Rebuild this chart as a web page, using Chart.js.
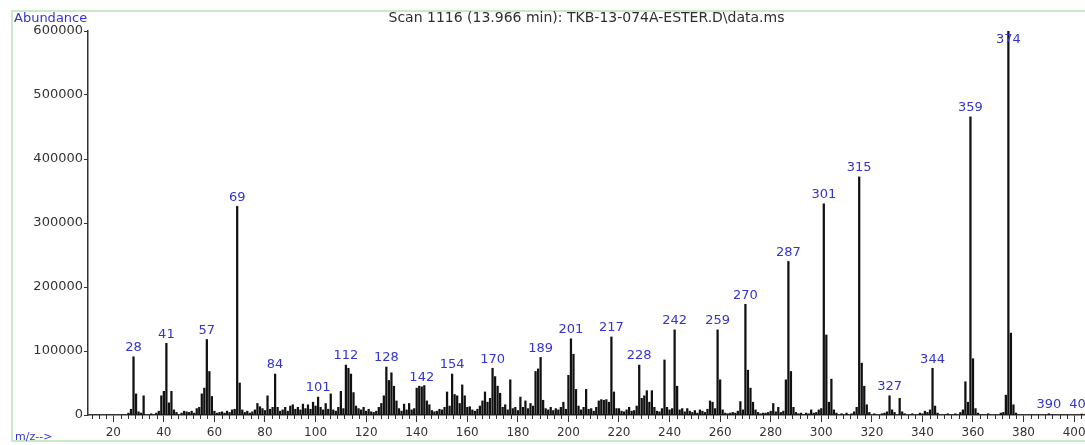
<!DOCTYPE html>
<html>
<head>
<meta charset="utf-8">
<script src="https://cdn.jsdelivr.net/npm/chart.js"></script>
<style>
html, body { margin: 0; padding: 0; background: #fff; }
#wrap { width: 1085px; height: 445px; }
</style>
</head>
<body>
<div id="wrap"><canvas id="ms" width="1085" height="445"></canvas></div>
<script>
// m/z values and abundances
const mzValues = [
  26, 27, 28, 29, 30, 31, 32, 35, 37, 38, 39, 40, 41, 42, 43, 44, 45, 47, 48, 49,
  50, 51, 52, 53, 54, 55, 56, 57, 58, 59, 60, 61, 62, 63, 64, 65, 66, 67, 68, 69,
  70, 71, 72, 73, 74, 75, 76, 77, 78, 79, 80, 81, 82, 83, 84, 85, 86, 87, 88, 89,
  90, 91, 92, 93, 94, 95, 96, 97, 98, 99, 100, 101, 102, 103, 104, 105, 106, 107, 108, 109,
  110, 111, 112, 113, 114, 115, 116, 117, 118, 119, 120, 121, 122, 123, 124, 125, 126, 127, 128, 129,
  130, 131, 132, 133, 134, 135, 136, 137, 138, 139, 140, 141, 142, 143, 144, 145, 146, 147, 148, 149,
  150, 151, 152, 153, 154, 155, 156, 157, 158, 159, 160, 161, 162, 163, 164, 165, 166, 167, 168, 169,
  170, 171, 172, 173, 174, 175, 176, 177, 178, 179, 180, 181, 182, 183, 184, 185, 186, 187, 188, 189,
  190, 191, 192, 193, 194, 195, 196, 197, 198, 199, 200, 201, 202, 203, 204, 205, 206, 207, 208, 209,
  210, 211, 212, 213, 214, 215, 216, 217, 218, 219, 220, 221, 222, 223, 224, 225, 226, 227, 228, 229,
  230, 231, 232, 233, 234, 235, 236, 237, 238, 239, 240, 241, 242, 243, 244, 245, 246, 247, 248, 249,
  250, 251, 252, 253, 254, 255, 256, 257, 258, 259, 260, 261, 262, 263, 264, 265, 266, 267, 268, 269,
  270, 271, 272, 273, 274, 275, 276, 277, 278, 279, 280, 281, 282, 283, 284, 285, 286, 287, 288, 289,
  290, 291, 292, 294, 295, 296, 297, 298, 299, 300, 301, 302, 303, 304, 305, 306, 308, 310, 312, 313,
  314, 315, 316, 317, 318, 319, 321, 324, 325, 326, 327, 328, 329, 331, 332, 333, 336, 339, 340, 341,
  342, 343, 344, 345, 346, 350, 353, 355, 356, 357, 358, 359, 360, 361, 362, 366, 371, 372, 373, 374,
  375, 376, 377, 390, 403
];
const abundance = [
  3000, 9000, 91000, 33000, 5000, 3000, 30000, 2000, 3000, 6000, 30000, 37000, 112000, 19000, 37000, 8000, 4000, 3000, 6000, 5000,
  4000, 6000, 3000, 10000, 12000, 33000, 42000, 118000, 68000, 29000, 6000, 3000, 4000, 5000, 3000, 6000, 4000, 8000, 9000, 326000,
  50000, 8000, 4000, 6000, 3000, 5000, 8000, 18000, 13000, 10000, 7000, 30000, 9000, 12000, 64000, 12000, 6000, 8000, 12000, 6000,
  14000, 16000, 9000, 12000, 8000, 17000, 10000, 16000, 9000, 20000, 14000, 28000, 12000, 8000, 18000, 9000, 33000, 8000, 6000, 12000,
  37000, 10000, 78000, 73000, 64000, 35000, 14000, 10000, 8000, 12000, 6000, 9000, 5000, 4000, 6000, 12000, 18000, 30000, 75000, 54000,
  66000, 45000, 22000, 10000, 6000, 17000, 8000, 18000, 8000, 10000, 42000, 45000, 44000, 46000, 22000, 16000, 7000, 5000, 6000, 9000,
  8000, 12000, 36000, 14000, 64000, 32000, 30000, 18000, 47000, 30000, 12000, 13000, 8000, 6000, 9000, 14000, 22000, 36000, 20000, 26000,
  73000, 60000, 45000, 34000, 12000, 16000, 8000, 55000, 10000, 12000, 7000, 28000, 12000, 22000, 10000, 18000, 14000, 68000, 72000, 90000,
  23000, 10000, 8000, 12000, 7000, 10000, 8000, 12000, 20000, 9000, 62000, 119000, 95000, 40000, 14000, 8000, 12000, 40000, 9000, 10000,
  6000, 12000, 22000, 24000, 23000, 24000, 20000, 122000, 36000, 10000, 10000, 6000, 5000, 8000, 12000, 6000, 7000, 14000, 78000, 26000,
  30000, 38000, 20000, 38000, 12000, 6000, 5000, 10000, 86000, 12000, 8000, 10000, 133000, 45000, 8000, 10000, 5000, 10000, 6000, 4000,
  7000, 3000, 8000, 6000, 4000, 9000, 22000, 20000, 10000, 133000, 55000, 8000, 3000, 2000, 3000, 4000, 3000, 6000, 21000, 8000,
  173000, 70000, 42000, 20000, 8000, 4000, 2000, 3000, 3000, 4000, 6000, 18000, 5000, 12000, 4000, 6000, 55000, 240000, 68000, 12000,
  4000, 2000, 3000, 3000, 2000, 8000, 3000, 4000, 8000, 10000, 330000, 125000, 20000, 56000, 8000, 3000, 2000, 3000, 2000, 5000,
  12000, 372000, 81000, 45000, 16000, 4000, 2000, 2000, 3000, 5000, 30000, 8000, 4000, 26000, 5000, 2000, 2000, 3000, 2000, 6000,
  4000, 8000, 73000, 14000, 3000, 2000, 2000, 4000, 8000, 52000, 20000, 466000, 88000, 10000, 3000, 2000, 3000, 4000, 31000, 600000,
  128000, 16000, 3000, 2000, 1500
];
// peaks that carry an m/z label
const labelledPeaks = [28, 41, 57, 69, 84, 101, 112, 128, 142, 154, 170, 189, 201, 217, 228, 242, 259, 270, 287, 301, 315, 327, 344, 359, 374, 390, 403];
const xTickLabels = [20, 40, 60, 80, 100, 120, 140, 160, 180, 200, 220, 240, 260, 280, 300, 320, 340, 360, 380, 400];
const yTickLabels = [0, 100000, 200000, 300000, 400000, 500000, 600000];

const titleText = 'Scan 1116 (13.966 min): TKB-13-074A-ESTER.D\\data.ms';
const FONT = '"DejaVu Sans", sans-serif';
const BLUE = '#3434cf';

const decorations = {
  id: 'decorations',
  beforeDraw(chart) {
    const ctx = chart.ctx;
    ctx.save();
    ctx.fillStyle = '#fff';
    ctx.fillRect(0, 0, chart.width, chart.height);
    ctx.strokeStyle = '#c6ebc6';
    ctx.lineWidth = 2;
    ctx.strokeRect(12, 11, chart.width + 10, 430);
    ctx.restore();
  },
  afterDraw(chart) {
    const ctx = chart.ctx;
    const x = chart.scales.x, y = chart.scales.y;
    const area = chart.chartArea;
    ctx.save();

    // minor ticks on the m/z axis
    ctx.strokeStyle = '#333';
    ctx.lineWidth = 1;
    const step = 20 / 7;
    for (let v = 20 - 3 * step; v <= x.max; v += step) {
      if (Math.abs(v / 20 - Math.round(v / 20)) < 0.01) continue;
      const px = Math.round(x.getPixelForValue(v)) + 0.5;
      ctx.beginPath();
      ctx.moveTo(px, area.bottom);
      ctx.lineTo(px, area.bottom + 4);
      ctx.stroke();
    }

    // peak labels
    ctx.fillStyle = BLUE;
    ctx.font = '13px ' + FONT;
    ctx.textAlign = 'center';
    ctx.textBaseline = 'middle';
    labelledPeaks.forEach(m => {
      const i = mzValues.indexOf(m);
      const px = x.getPixelForValue(m);
      const top = y.getPixelForValue(abundance[i]);
      ctx.fillText(String(m), px, Math.max(top - 9, 40));
    });

    // title and axis captions
    ctx.fillStyle = '#2e2e2e';
    ctx.font = '14px ' + FONT;
    ctx.fillText(titleText, (area.left + area.right) / 2, 18);
    ctx.fillStyle = BLUE;
    ctx.textAlign = 'left';
    ctx.font = '13px ' + FONT;
    ctx.fillText('Abundance', 14, 19);
    ctx.font = '11px ' + FONT;
    ctx.fillText('m/z-->', 15, 437);
    ctx.restore();
  }
};

new Chart(document.getElementById('ms'), {
  type: 'bar',
  data: {
    datasets: [{
      data: mzValues.map((m, i) => ({ x: m, y: abundance[i] })),
      backgroundColor: '#111',
      borderWidth: 0,
      barThickness: 1.6
    }]
  },
  options: {
    responsive: false,
    animation: false,
    devicePixelRatio: 1,
    layout: { padding: { top: 31, right: 0, left: 0, bottom: 0 } },
    plugins: { legend: { display: false }, tooltip: { enabled: false } },
    scales: {
      x: {
        type: 'linear',
        min: 10,
        max: 404.3,
        offset: false,
        grid: { offset: false, drawOnChartArea: false, tickLength: 7, color: '#333', tickColor: '#333' },
        border: { display: true, color: '#333', width: 1.5 },
        afterBuildTicks: s => { s.ticks = xTickLabels.map(v => ({ value: v })); },
        afterFit: s => { s.height = 30; s.paddingLeft = 0; s.paddingRight = 0; },
        ticks: {
          autoSkip: false, maxRotation: 0, padding: 4,
          color: '#333', font: { family: FONT, size: 12 },
          callback: v => String(v)
        }
      },
      y: {
        min: 0,
        max: 600000,
        grid: { drawOnChartArea: false, tickLength: 4, color: '#333', tickColor: '#333' },
        border: { display: true, color: '#333', width: 1.5 },
        afterBuildTicks: s => { s.ticks = yTickLabels.map(v => ({ value: v })); },
        afterFit: s => { s.width = 88; },
        ticks: {
          padding: 1,
          color: '#333', font: { family: FONT, size: 13 },
          callback: v => String(v)
        }
      }
    }
  },
  plugins: [decorations]
});
</script>
</body>
</html>
